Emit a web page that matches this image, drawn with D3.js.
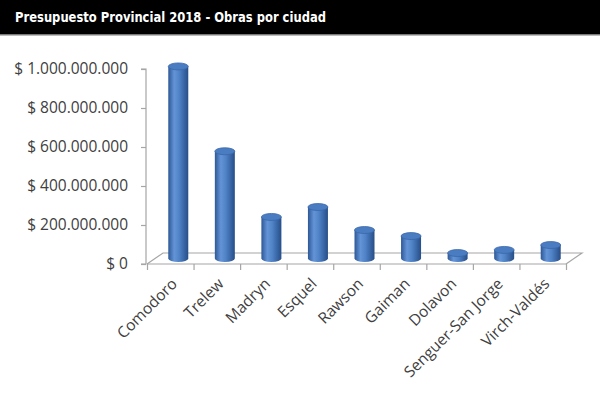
<!DOCTYPE html>
<html>
<head>
<meta charset="utf-8">
<script src="https://cdn.jsdelivr.net/npm/d3@7"></script>
<style>
  body { margin: 0; background: #fff; }
  svg { display: block; }
</style>
</head>
<body>
<div id="chart"></div>
<script>
// data
var cities = ["Comodoro", "Trelew", "Madryn", "Esquel", "Rawson", "Gaiman", "Dolavon", "Senguer-San Jorge", "Virch-Valdés"];
var budget = [985000000, 550000000, 213000000, 264000000, 146000000, 115000000, 28000000, 44000000, 69000000];
var yTicks = [0, 200000000, 400000000, 600000000, 800000000, 1000000000];
var title = "Presupuesto Provincial 2018 - Obras por ciudad";

var width = 600, height = 394;
var depth = {dx: 16, dy: -11};

var svg = d3.select("#chart").append("svg")
    .attr("width", width)
    .attr("height", height);

// title band
svg.append("rect").attr("x", 0).attr("y", 0).attr("width", width).attr("height", 34).attr("fill", "#000");
svg.append("rect").attr("x", 0).attr("y", 34).attr("width", width).attr("height", 1.5).attr("fill", "#7a7a7a");
svg.append("text")
    .attr("x", 15).attr("y", 22)
    .attr("fill", "#fff")
    .attr("textLength", 311)
    .attr("lengthAdjust", "spacingAndGlyphs")
    .style("font-family", "Verdana, 'DejaVu Sans', sans-serif")
    .style("font-weight", "bold")
    .style("font-size", "13.5px")
    .text(title);

var x = d3.scaleBand().domain(cities).range([147, 566]).padding(0);
var xEdge = d3.scaleLinear().domain([0, cities.length]).range([147, 566]);
var y = d3.scaleLinear().domain([0, 1000000000]).range([264, 69]);

var es = d3.formatLocale({decimal: ",", thousands: ".", grouping: [3], currency: ["$", ""]});
var fmt = es.format(",.0f");

var defs = svg.append("defs");
var grad = defs.append("linearGradient").attr("id", "cyl").attr("x1", "0").attr("x2", "1").attr("y1", "0").attr("y2", "0");
grad.append("stop").attr("offset", "0%").attr("stop-color", "#2d5896");
grad.append("stop").attr("offset", "30%").attr("stop-color", "#6494d8");
grad.append("stop").attr("offset", "55%").attr("stop-color", "#4f82c6");
grad.append("stop").attr("offset", "100%").attr("stop-color", "#274e88");

var gridColor = "#a6a6a6";

// floor
var floor = svg.append("g").attr("stroke", gridColor).attr("fill", "none").attr("stroke-width", 1.2);
floor.append("path").attr("d",
    "M" + xEdge(0) + "," + y(0) +
    "L" + (xEdge(0) + depth.dx) + "," + (y(0) + depth.dy) +
    "L" + (xEdge(cities.length) + depth.dx) + "," + (y(0) + depth.dy) +
    "L" + xEdge(cities.length) + "," + y(0));

// y axis
var yAxis = svg.append("g")
    .attr("transform", "translate(146,0)")
    .call(d3.axisLeft(y).tickValues(yTicks).tickSize(5).tickPadding(13)
        .tickFormat(function(d){ return "$ " + fmt(d); }));
yAxis.selectAll("line, path").attr("stroke", gridColor).attr("stroke-width", 1.2);
yAxis.select(".domain").attr("d", "M-5," + y(1000000000) + "H0V" + y(0) + "H-5");
yAxis.selectAll("text")
    .attr("fill", "#404040")
    .style("font-family", "'Open Sans', sans-serif")
    .style("font-size", "15.5px");

// x axis (category edges)
var xAxis = svg.append("g")
    .attr("transform", "translate(0," + y(0) + ")")
    .call(d3.axisBottom(xEdge).tickValues(d3.range(cities.length + 1)).tickSize(6).tickFormat(""));
xAxis.selectAll("line, path").attr("stroke", gridColor).attr("stroke-width", 1.2);
xAxis.select(".domain").attr("d", "M" + xEdge(0) + ",0H" + xEdge(cities.length));

svg.append("g").selectAll("text")
    .data(cities)
    .enter().append("text")
    .attr("transform", function(d){ return "translate(" + (x(d) + x.bandwidth() / 2 + 4) + "," + (y(0) + 17) + ") rotate(-45)"; })
    .attr("text-anchor", "end")
    .attr("dy", "0.35em")
    .attr("fill", "#404040")
    .style("font-family", "'Open Sans', sans-serif")
    .style("font-size", "15.5px")
    .text(function(d){ return d; });

// cylinders
var rx = 10, ry = 3.5;
var bars = svg.append("g").selectAll("g")
    .data(cities.map(function(c, i){ return {city: c, value: budget[i]}; }))
    .enter().append("g");

bars.append("path")
    .attr("fill", "url(#cyl)")
    .attr("d", function(d){
        var cx = x(d.city) + x.bandwidth() / 2 + depth.dx / 2;
        var yb = y(0) + depth.dy / 2, yt = y(d.value) + depth.dy / 2;
        return "M" + (cx - rx) + "," + yt + "L" + (cx - rx) + "," + yb +
            "A" + rx + "," + ry + " 0 0 0 " + (cx + rx) + "," + yb +
            "L" + (cx + rx) + "," + yt + "Z";
    });

bars.append("ellipse")
    .attr("cx", function(d){ return x(d.city) + x.bandwidth() / 2 + depth.dx / 2; })
    .attr("cy", function(d){ return y(d.value) + depth.dy / 2; })
    .attr("rx", rx).attr("ry", ry)
    .attr("fill", "#4a7cc2")
    .attr("stroke", "#3a67a8")
    .attr("stroke-width", 0.8);
</script>
</body>
</html>
